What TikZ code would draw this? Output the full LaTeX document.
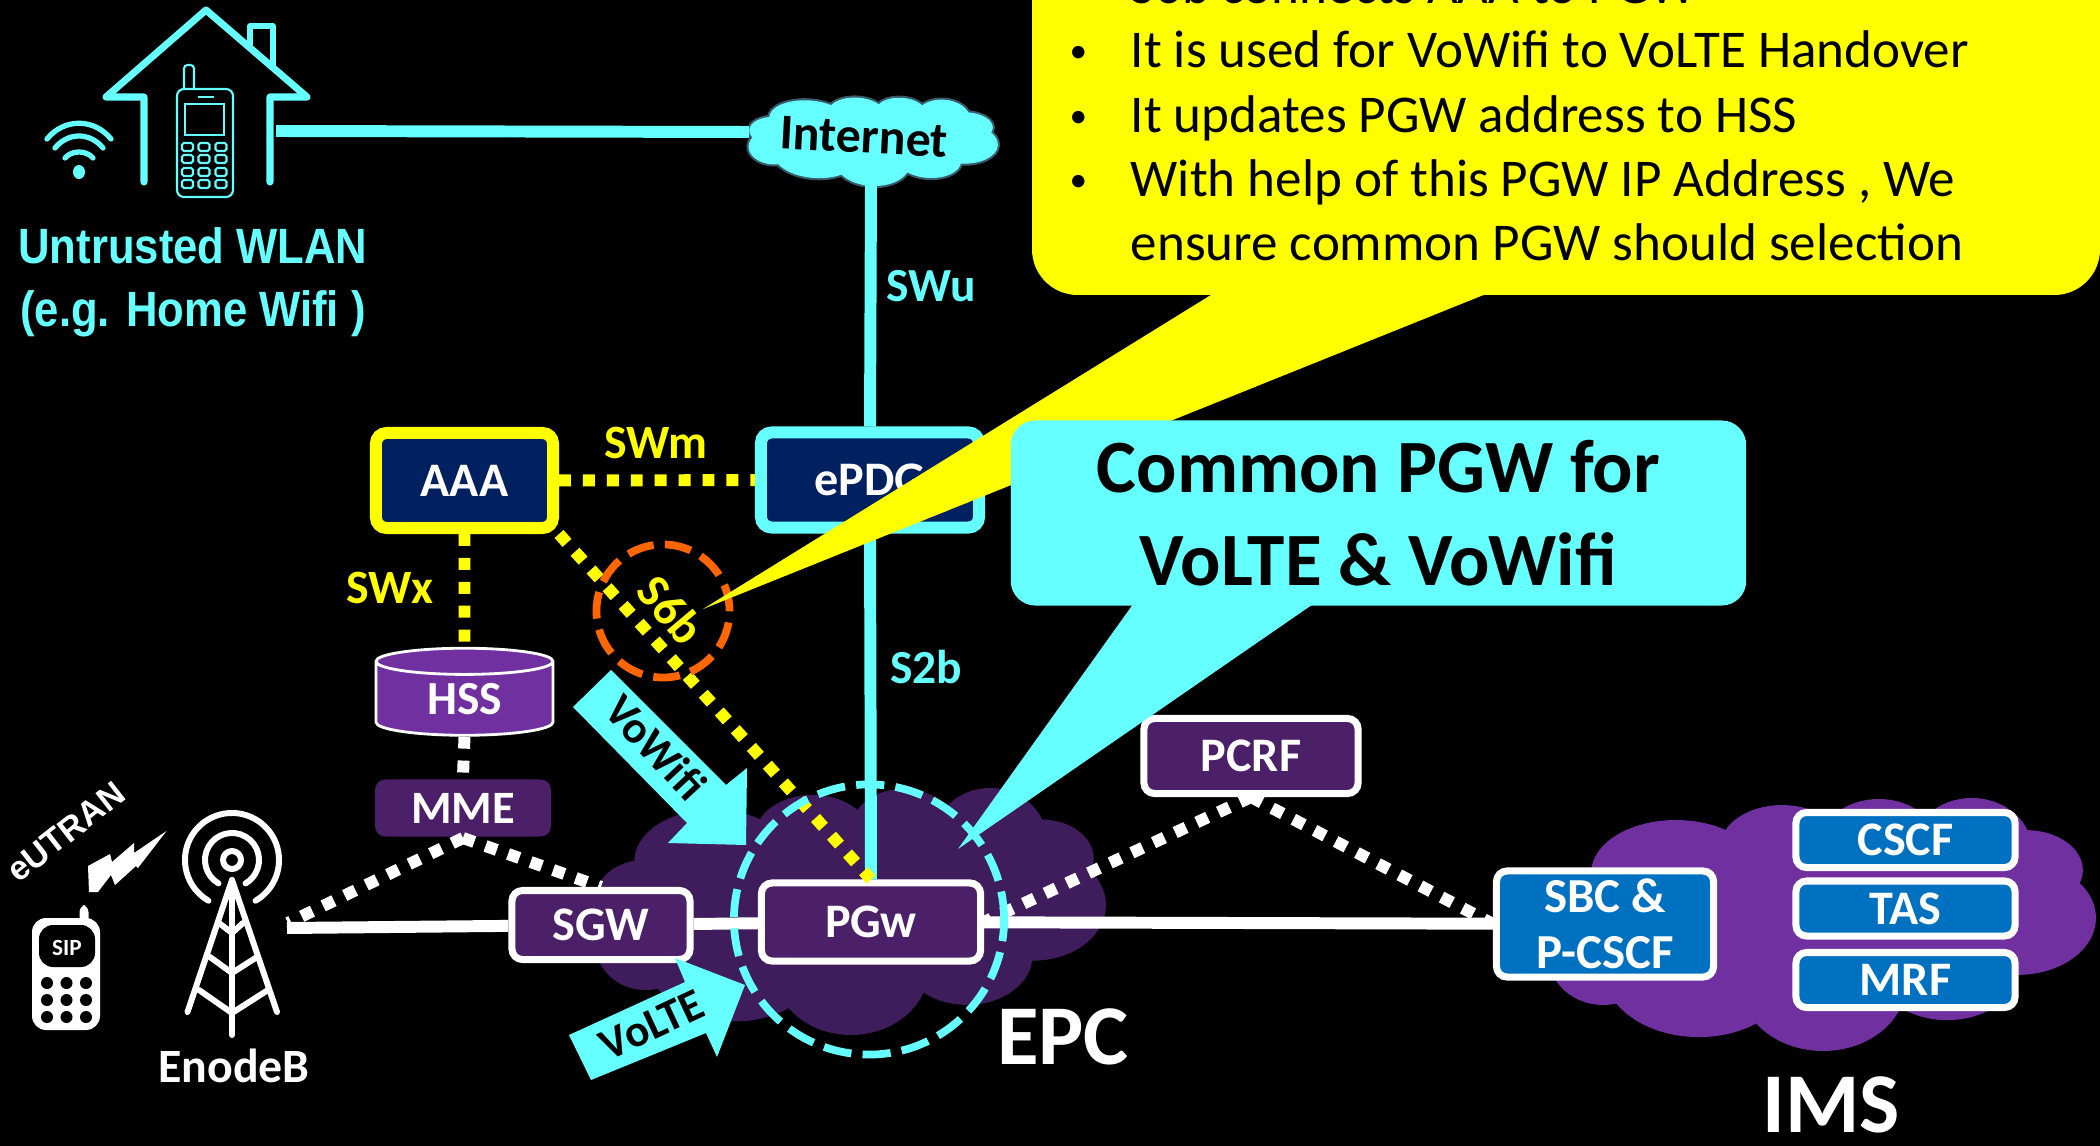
\documentclass[tikz,border=0pt]{standalone}
\usepackage{fontspec}
\setmainfont{Carlito}
\newfontfamily\arialfont{Liberation Sans}
\newfontfamily\wlanfont[FakeStretch=0.88]{Liberation Sans}
\usetikzlibrary{positioning,shapes.geometric}

\definecolor{aqua}{HTML}{66FFFF}
\definecolor{noteyellow}{HTML}{FFFF00}
\definecolor{navybox}{HTML}{002060}
\definecolor{plumbox}{HTML}{4B2068}
\definecolor{epccloud}{HTML}{3F1D5C}
\definecolor{imscloud}{HTML}{7030A0}
\definecolor{bluebox}{HTML}{0070C0}
\definecolor{orangering}{HTML}{FF6600}
\definecolor{cloudedge}{HTML}{3A5A6A}

% one cloud: left, top, width, height, style
\newcommand{\cloudblob}[5]{
  \foreach \cx/\cy/\rx/\ry in {.232/.296/.155/.209,.426/.194/.113/.166,.603/.154/.099/.150,
      .773/.206/.110/.206,.872/.285/.104/.158,.857/.474/.143/.225,.728/.680/.128/.198,
      .501/.731/.152/.269,.274/.680/.174/.265,.099/.628/.099/.190,.100/.450/.100/.160,.5/.5/.4/.35}
    \path[#5,shift={(#1,#2)},x=#3*0.01cm,y=-#4*0.01cm] (\cx,\cy) ellipse [x radius=\rx, y radius=\ry];
}

\begin{document}
\begin{tikzpicture}
            [
            x=0.01cm,y=-0.01cm,
            netbox/.style={rectangle,rounded corners=3pt,draw=white,line width=2pt,text=white,font=\fontsize{13.7}{15}\selectfont\bfseries,inner sep=0pt},
            aaabox/.style={netbox,draw=noteyellow,fill=navybox,minimum width=1.77cm,minimum height=0.95cm,line width=3.4pt},
            pdgbox/.style={netbox,draw=aqua,fill=navybox,minimum width=2.18cm,minimum height=0.95cm,line width=3.4pt},
            corebox/.style={netbox,fill=plumbox},
            imsbox/.style={netbox,fill=bluebox,minimum width=2.19cm,minimum height=0.55cm},
            ylabel/.style={text=noteyellow,font=\fontsize{13.6}{15}\selectfont\bfseries},
            alabel/.style={text=aqua,font=\fontsize{13.5}{15}\selectfont\bfseries},
            biglabel/.style={text=white,font=\fontsize{24.2}{29}\selectfont\bfseries},
            calltext/.style={anchor=base west,inner sep=0pt,font=\fontsize{15.1}{17}\selectfont},
            arrowtext/.style={font=\fontsize{12.8}{14}\selectfont\bfseries},
            solidlink/.style={line width=3.4pt},
            dotlink/.style={line width=3.4pt,dash pattern=on 3.4pt off 3.4pt},
            icon/.style={white,line width=1.7pt,line cap=round,line join=round}
            ]
        \fill[black] (0,0) rectangle (2100,1146);
        \useasboundingbox (0,0) rectangle (2100,1146);
        \clip (0,0) rectangle (2100,1146);

        % clouds
        \cloudblob{595}{788}{511}{247}{fill=epccloud}
        \cloudblob{1549}{798}{547}{253}{fill=imscloud}
        \begin{scope}[rotate around={-3:(873,140)}]
            \cloudblob{749}{96}{249}{90}{draw=cloudedge,line width=1.2pt}
            \cloudblob{749}{96}{249}{90}{fill=aqua}
        \end{scope}

        % nodes
        \node[rotate=-3,font=\fontsize{14.2}{15}\selectfont\bfseries] (internet) at (864,137) {Internet};
        \node[aaabox] (aaa) at (464.5,480.5) {AAA};
        \node[pdgbox] (epdg) at (870,480) {ePDG};
        \node[cylinder,shape border rotate=90,aspect=0.35,draw=white,line width=0.8pt,fill=imscloud,
              minimum width=1.77cm,minimum height=0.87cm,inner sep=0pt,text=white,
              font=\fontsize{13.5}{15}\selectfont\bfseries] (hss) at (464.5,699) {HSS};
        \node[corebox,draw=none,minimum width=1.76cm,minimum height=0.57cm,font=\fontsize{13.2}{15}\selectfont\bfseries] (mme) at (463,808) {MME};
        \node[corebox,minimum width=1.78cm,minimum height=0.69cm] (sgw) at (601,925) {SGW};
        \node[corebox,minimum width=2.19cm,minimum height=0.78cm] (pgw) at (871,922) {PGw};
        \node[corebox,minimum width=2.14cm,minimum height=0.75cm] (pcrf) at (1251,756) {PCRF};
        \node[netbox,fill=bluebox,minimum width=2.17cm,minimum height=1.06cm,align=center,
              font=\fontsize{13.9}{16}\selectfont\bfseries] (sbc) at (1605,924) {SBC \&\\P-CSCF};
        \node[imsbox] (cscf) at (1905.5,840) {CSCF};
        \node[imsbox] (tas) at (1905.5,908.5) {TAS};
        \node[imsbox] (mrf) at (1905.5,980) {MRF};
        \coordinate (homeport) at (276,131);
        \coordinate (cloudport) at (749,132);
        \coordinate (cloudfoot) at (871,183);
        \coordinate (mastport) at (287,928);
        \coordinate (mastdot) at (288,923);
        \coordinate (mmefoot) at (463,838);

        % links
        \draw[aqua,solidlink] (homeport) -- (cloudport);
        \draw[aqua,solidlink] (cloudfoot) -- (epdg.north);
        \draw[aqua,solidlink] (epdg.south) -- (pgw.north);
        \draw[white,solidlink] (mastport) -- (sgw);
        \draw[white,solidlink] (sgw) -- (pgw);
        \draw[white,solidlink] (pgw) -- (sbc);
        \draw[noteyellow,dotlink] (aaa) -- (epdg);
        \draw[noteyellow,dotlink] (aaa.south) -- (hss.north);
        \draw[noteyellow,dotlink] (aaa.south east) -- (pgw.north);
        \draw[white,dotlink] (hss.south) -- (mme.north);
        \draw[white,dotlink] (mmefoot) -- (mastdot);
        \draw[white,dotlink] (mmefoot) -- (sgw.north);
        \draw[white,dotlink] (pcrf.south) -- (pgw.east);
        \draw[white,dotlink] (pcrf.south) -- (sbc.west);

        % labels
        \node[ylabel] (swm) at (656,443) {SWm};
        \node[ylabel] (swx) at (390,588) {SWx};
        \node[alabel] (swu) at (931,286) {SWu};
        \node[alabel] (s2b) at (926,667) {S2b};
        \node[biglabel] (epc) at (1063,1037) {EPC};
        \node[biglabel] (ims) at (1831,1105) {IMS};
        \node[text=white,font=\fontsize{13.6}{15}\selectfont\bfseries] (enodeb) at (234,1066) {EnodeB};
        \node[text=white,rotate=38,font=\fontsize{9.7}{12}\selectfont\bfseries\arialfont] (eutran) at (66,832) {eUTRAN};
        \node[text=aqua,align=center,font=\fontsize{14.1}{18}\selectfont\bfseries\wlanfont] (wlan) at (193,282) {Untrusted WLAN\\(e.g. Home Wifi )};

        % S6b ring
        \node[circle,draw=orangering,line width=2.2pt,dash pattern=on 7.6pt off 3.2pt,minimum size=1.33cm] (s6bring) at (663,611) {};
        \node[ylabel,rotate=-50] (s6b) at (671,610) {S6b};

        % VoLTE and VoWifi arrows
        \fill[aqua] (611,670) -- (726,785) -- (747,768) -- (746,845) -- (668,843) -- (687,823) -- (573,707) -- cycle;
        \node[arrowtext,rotate=-47] (vowifi) at (656,747) {VoWifi};
        \fill[aqua] (569,1035) -- (685,982) -- (675,958) -- (745,985) -- (717,1057) -- (706,1033) -- (591,1080) -- cycle;
        \node[arrowtext,rotate=25] (volte) at (652,1025) {VoLTE};

        % PGW ring
        \node[circle,draw=aqua,line width=2.2pt,dash pattern=on 8pt off 3.2pt,minimum size=2.7cm] (pgwring) at (869,919.5) {};

        % yellow note
        \fill[noteyellow,rounded corners=13pt] (1032,-60) rectangle (2100,295);
        \fill[noteyellow] (703,609) -- (1219,290) -- (1496,290) -- cycle;
        \node[calltext] (noteA) at (1130,4) {S6b connects AAA to PGW};
        \node[calltext] (noteB) at (1130,68) {It is used for VoWifi to VoLTE Handover};
        \node[calltext] (noteC) at (1130,133) {It updates PGW address to HSS};
        \node[calltext] (noteD) at (1130,197) {With help of this PGW IP Address , We};
        \node[calltext] (noteE) at (1130,261) {ensure common PGW should selection};
        \foreach \ypos/\yname in {4/A,68/B,133/C,197/D} {
            \node[calltext,font=\fontsize{10}{12}\selectfont] (dot\yname) at (1069,\ypos-5) {•};
        }

        % cyan note
        \fill[aqua] (958,849) -- (1136,600) -- (1319,600) -- cycle;
        \node[rectangle,rounded corners=7pt,fill=aqua,minimum width=7.35cm,minimum height=1.85cm,align=center,inner sep=0pt,
              font=\fontsize{21.4}{26.5}\selectfont\bfseries] (common) at (1378.5,513) {Common PGW for\\VoLTE \& VoWifi};

        % house
        \draw[aqua,line width=2pt,line join=round,line cap=round] (144,182) -- (144,97) -- (106,97) -- (206,10) -- (307,97) -- (270,97) -- (270,182);
        \draw[aqua,line width=1.6pt,line join=round] (250,45) -- (250,26) -- (273,26) -- (273,68);
        \draw[aqua,line width=0.6pt,rounded corners=2pt] (177,89) rectangle (233,197);
        \draw[aqua,line width=0.6pt,rounded corners=1pt] (184,89) -- (184,65) -- (194,65) -- (194,89);
        \draw[aqua,line width=0.6pt] (185,104) rectangle (224,135);
        \draw[aqua,line width=0.8pt] (198,97) -- (214,97);
        \foreach \kx in {187.5,204,221} {
            \foreach \ky in {147,159,172,184} {
                \draw[aqua,line width=0.6pt,rounded corners=0.5pt] (\kx-5.5,\ky-4) rectangle (\kx+5.5,\ky+4);
            }
        }
        % wifi
        \fill[aqua] (79,172) ellipse [x radius=6, y radius=7];
        \draw[aqua,line width=1.5pt,line cap=round] (65,158) .. controls (72,150) and (86,150) .. (93,158);
        \draw[aqua,line width=1.5pt,line cap=round] (55,148) .. controls (68,132) and (90,132) .. (103,148);
        \draw[aqua,line width=1.5pt,line cap=round] (47,139) .. controls (64,118) and (94,118) .. (111,139);

        % tower
        \draw[icon] (232,860) circle [radius=0.09cm];
        \draw[icon] (232,860) ++(240:0.27cm) arc [start angle=240,end angle=-60,radius=0.27cm];
        \draw[icon] (232,860) ++(240:0.47cm) arc [start angle=240,end angle=-60,radius=0.47cm];
        \draw[icon] (187.5,1012) -- (232,880) -- (277,1012);
        \draw[icon] (232,880) -- (232,1035);
        \draw[icon] (199,990) -- (232,1013) -- (268,990);
        \draw[icon] (210,957) -- (232,973) -- (257,957);
        \draw[icon] (219,923) -- (232,933) -- (243,923);

        % handset
        \fill[white,rounded corners=4pt] (32,918) rectangle (100,1030);
        \fill[white,rounded corners=2pt] (79.5,905) rectangle (88.5,925);
        \fill[black,rounded corners=4pt] (39,925) rectangle (95,967);
        \node[text=white,font=\fontsize{6.6}{8}\selectfont\bfseries] (sip) at (67,948) {SIP};
        \foreach \kx in {47,66.5,86} {
            \foreach \ky in {983,1000,1017} {
                \fill[black] (\kx,\ky) circle [radius=0.06cm];
            }
        }
        % radio spark
        \fill[white] (89,892) -- (98,892) -- (111,875) -- (115,885) -- (136,866) -- (138,868) -- (166.5,831) -- (134,853) -- (134,843) -- (112,862) -- (110,854) -- (88,866) -- cycle;
        \end{tikzpicture}
\end{document}
